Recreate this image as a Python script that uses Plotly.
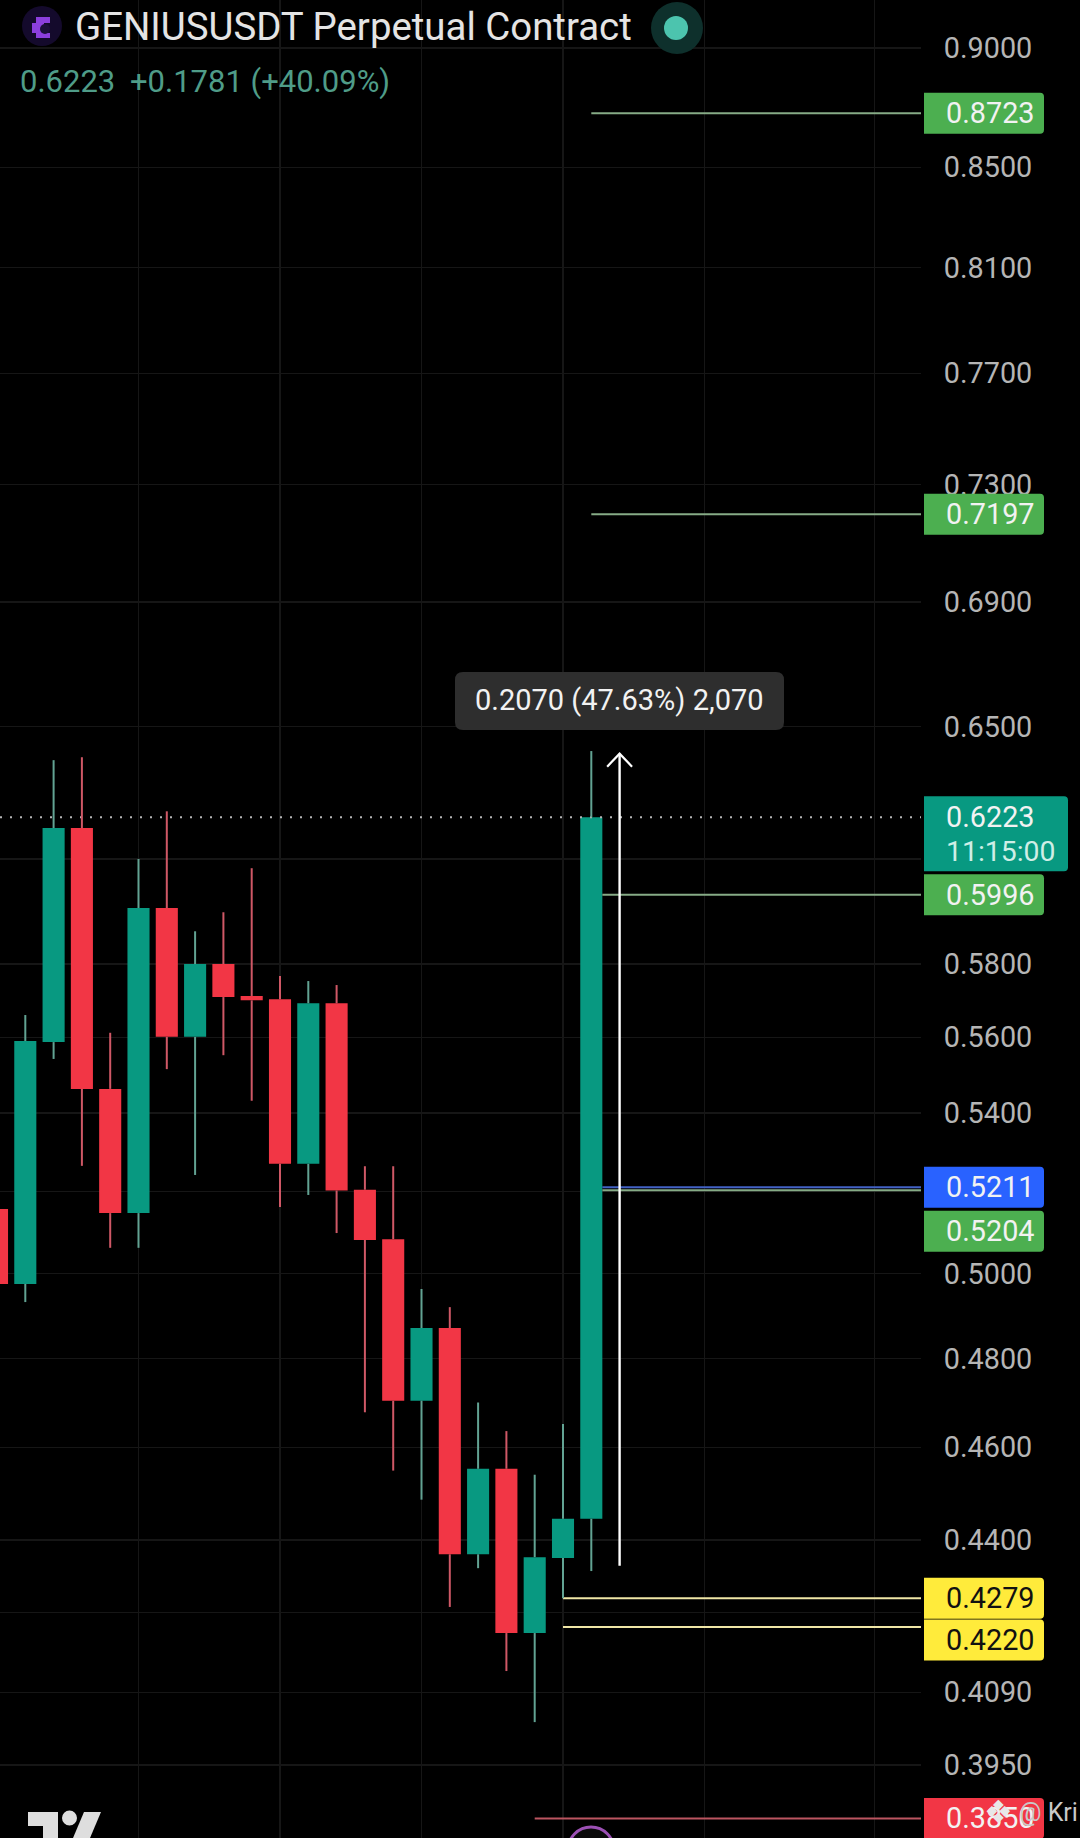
import math
import plotly.graph_objects as go

# ---- data ----
candle_index = list(range(22))
opens  = [.5157,.4975,.5587,.6191,.5463,.5147,.5958,.5601,.5800,.5712,.5703,.5270,.5692,.5205,.5083,.4704,.4871,.4370,.4553,.4208,.4362,.4445]
highs  = [.5190,.5660,.6396,.6405,.5612,.6100,.6241,.5892,.5946,.6073,.5767,.5753,.5742,.5264,.5264,.4963,.4920,.4700,.4636,.4540,.4652,.6424]
lows   = [.4940,.4932,.5542,.5265,.5062,.5062,.5515,.5242,.5552,.5432,.5162,.5192,.5098,.4678,.4549,.4486,.4261,.4341,.4132,.4032,.4279,.4335]
closes = [.4975,.5590,.6191,.5463,.5147,.5958,.5601,.5800,.5709,.5700,.5270,.5692,.5203,.5081,.4704,.4871,.4370,.4553,.4208,.4364,.4445,.6223]

tick_values = [.9,.85,.81,.77,.73,.69,.65,.58,.56,.54,.50,.48,.46,.44,.409,.395]
hidden_grid = [.61,.52,.425]
x_grid = [5,10,15,20,25,31]

levels = [.8723,.7197,.5996,.5204,.5211,.4279,.4220,.3850]
level_start = [21,21,21.39,21.39,21.39,20,20,19]
level_colors = ["#86ab86","#86ab86","#86ab86","#86ab86","#4262c4","#efe6a6","#efe6a6","#bb5560"]
tag_fills = ["#4CAF50","#4CAF50","#4CAF50","#4CAF50","#2962FF","#FFEB3B","#FFEB3B","#F23645"]
tag_text = ["#f2f2f2","#f2f2f2","#f2f2f2","#f2f2f2","#f2f2f2","#111111","#111111","#f2f2f2"]
tag_shift = [0,0,0,41,0,0,13,0]

last_price = .6223
ruler_low, ruler_high = .4346, .6416
ruler_x = 22

# ---- frame ----
W, H = 1080, 1838
PLOT_R = 921
Y_TOP, Y_BOT = -0.03574, -0.41862
X_L, X_R = 0.106, 32.65
GREEN, RED = "#089981", "#F23645"
FONT = "Roboto"
GRID = "#161616"

def px(x): return x / W
def py(y): return 1 - y / H
def val_y(v): return (Y_TOP - math.log10(v)) / (Y_TOP - Y_BOT) * H

def rrect(x0, y0, x1, y1, r, fill, rl=True):
    l = r if rl else 0.01
    d = (f"M {px(x0+l)} {py(y0)} L {px(x1-r)} {py(y0)} Q {px(x1)} {py(y0)} {px(x1)} {py(y0+r)} "
         f"L {px(x1)} {py(y1-r)} Q {px(x1)} {py(y1)} {px(x1-r)} {py(y1)} L {px(x0+l)} {py(y1)} "
         f"Q {px(x0)} {py(y1)} {px(x0)} {py(y1-l)} L {px(x0)} {py(y0+l)} Q {px(x0)} {py(y0)} {px(x0+l)} {py(y0)} Z")
    return dict(type="path", xref="paper", yref="paper", path=d, fillcolor=fill, line_width=0, layer="above")

def poly(points, fill):
    d = "M " + " L ".join(f"{px(a)} {py(b)}" for a, b in points) + " Z"
    return dict(type="path", xref="paper", yref="paper", path=d, fillcolor=fill, line_width=0, layer="above")

def circle(cx, cy, r, fill, line=None, lw=0):
    return dict(type="circle", xref="paper", yref="paper", x0=px(cx-r), x1=px(cx+r), y0=py(cy+r), y1=py(cy-r),
                fillcolor=fill, line=dict(color=line or fill, width=lw), layer="above")

def text(x, y, s, size, color, anchor="left", family=FONT):
    return dict(xref="paper", yref="paper", x=px(x), y=py(y), text=s, showarrow=False, xanchor=anchor,
                yanchor="middle", font=dict(family=family, size=size, color=color), borderpad=0)

fig = go.Figure()

# current price dotted line
fig.add_trace(go.Scatter(x=[X_L, X_R], y=[last_price, last_price], mode="lines",
                         line=dict(color="#b5b5b5", width=2, dash="2px,8px"), hoverinfo="skip"))

# horizontal levels
for v, s, c in zip(levels, level_start, level_colors):
    fig.add_trace(go.Scatter(x=[s, X_R], y=[v, v], mode="lines", line=dict(color=c, width=2), hoverinfo="skip"))

# wicks: only the parts outside the bodies, since scatter lines sit above candlesticks
for want_up, col in ((True, "#62a393"), (False, "#cf5866")):
    xs, ys = [], []
    for i, o, h, l, c in zip(candle_index, opens, highs, lows, closes):
        if (c >= o) == want_up:
            xs += [i, i, None, i, i, None]
            ys += [max(o, c), h, None, min(o, c), l, None]
    fig.add_trace(go.Scatter(x=xs, y=ys, mode="lines", line=dict(color=col, width=2), hoverinfo="skip"))

# bodies
fig.add_trace(go.Candlestick(
    x=candle_index, open=opens, high=highs, low=lows, close=closes, whiskerwidth=0,
    increasing=dict(fillcolor=GREEN, line=dict(color=GREEN, width=0)),
    decreasing=dict(fillcolor=RED, line=dict(color=RED, width=0)),
))

# ruler with open arrow head
head = ruler_high * math.exp(-13 / 2085)
fig.add_trace(go.Scatter(x=[ruler_x, ruler_x], y=[ruler_low, ruler_high], mode="lines",
                         line=dict(color="#ffffff", width=2.4), hoverinfo="skip"))
fig.add_trace(go.Scatter(x=[ruler_x - 0.44, ruler_x, ruler_x + 0.44], y=[head, ruler_high, head], mode="lines",
                         line=dict(color="#ffffff", width=2.2), hoverinfo="skip"))

shapes, notes = [], []

# tags
for v, f, tc, sh in zip(levels, tag_fills, tag_text, tag_shift):
    yc = val_y(v) + sh
    shapes.append(rrect(924, yc - 20.5, 1044, yc + 20.5, 4, f, rl=False))
    notes.append(text(945, yc, f"{v:.4f}", 28.8, tc))

# last price tag
yl = val_y(last_price)
shapes.append(rrect(924, yl - 21, 1068, yl + 54, 4, GREEN, rl=False))
notes.append(text(945, yl, f"{last_price:.4f}", 28.8, "#f2f2f2"))
notes.append(text(945, yl + 34, "11:15:00", 28.4, "#cfeee6"))

# ruler label
shapes.append(rrect(455, 672, 784, 730, 8, "#2e2e2e"))
notes.append(text(619.5, 700, "0.2070 (47.63%) 2,070", 29, "#f2f2f2", anchor="center"))

# header
notes.append(text(74, 27, "GENIUSUSDT Perpetual Contract", 38.4, "#e4e4e4"))
notes.append(text(19, 82, "0.6223", 31, "#4f9c88"))
notes.append(text(129, 82, "+0.1781 (+40.09%)", 31, "#4f9c88"))
shapes.append(circle(42, 26, 20, "#140a2c"))
shapes.append(poly([(36,17),(50,17),(50,23),(44,23),(44,33),(50,33),(50,38),(36,38),(36,33),(32,33),(32,23),(36,23)], "#8b3fdc"))
shapes.append(circle(45, 29, 5, "#1b0f3a"))
shapes.append(circle(677, 28, 26, "#0e302c"))
shapes.append(circle(676, 28, 12, "#4cc4ae"))

# bottom decorations
shapes.append(poly([(28,1812),(58,1812),(58,1838),(43,1838),(43,1826),(28,1826)], "#dedede"))
shapes.append(circle(69.5, 1818, 7.5, "#dedede"))
shapes.append(poly([(84,1812),(101,1812),(90,1838),(73,1838)], "#dedede"))
shapes.append(circle(591, 1850, 23, "#0a0a0a", line="#9b50b4", lw=3))

# watermark
notes.append(text(998, 1812, "❖", 32, "#e8e8e8", anchor="center", family="DejaVu Sans"))
notes.append(text(1018, 1812, "@ Kri", 25, "#c9c9c9"))

all_ticks = tick_values + hidden_grid
all_text = [f"{v:.4f}" for v in tick_values] + [""] * len(hidden_grid)

fig.update_layout(
    width=W, height=H, margin=dict(l=0, r=0, t=0, b=0), autosize=False,
    paper_bgcolor="#000000", plot_bgcolor="#000000", showlegend=False, boxgap=0.22, boxgroupgap=0,
    shapes=shapes, annotations=notes, hovermode=False,
    xaxis=dict(domain=[0, PLOT_R / W], range=[X_L, X_R], type="linear", rangeslider=dict(visible=False),
               tickmode="array", tickvals=x_grid, showticklabels=False, ticks="",
               showgrid=True, gridcolor=GRID, gridwidth=1.2, zeroline=False, showline=False),
    yaxis=dict(type="log", side="right", anchor="x", range=[Y_BOT, Y_TOP], tickmode="array",
               tickvals=all_ticks, ticktext=all_text, ticks="outside", ticklen=16, tickcolor="rgba(0,0,0,0)",
               tickfont=dict(family=FONT, size=28.8, color="#b5b5b5"), automargin=False,
               showgrid=True, gridcolor=GRID, gridwidth=1.2, zeroline=False, showline=False),
)

fig.write_html("out.html", config={"displayModeBar": False, "staticPlot": True},
               post_script="document.body.style.margin='0';document.documentElement.style.overflow='hidden';")
